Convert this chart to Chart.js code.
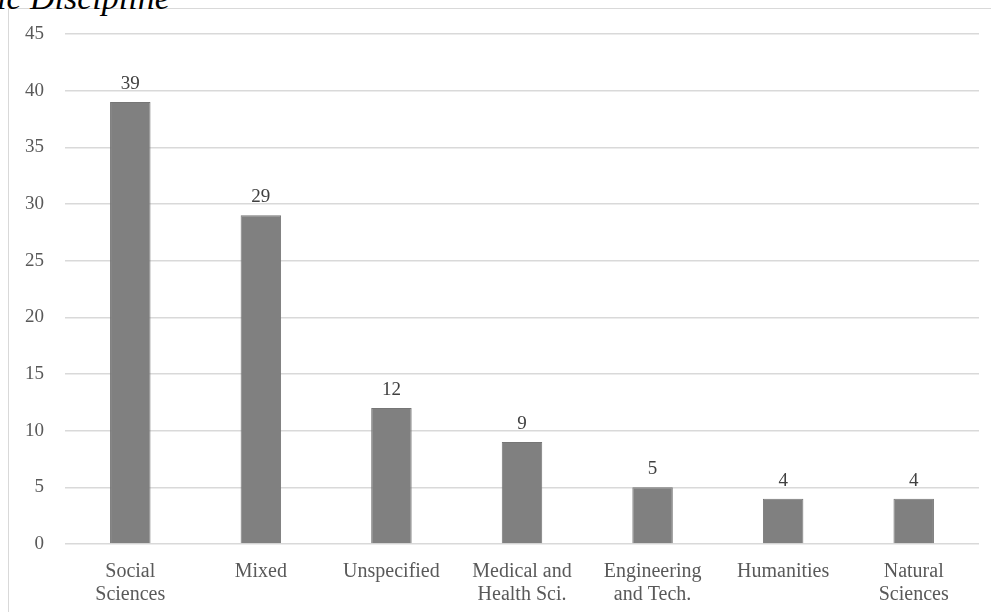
<!DOCTYPE html>
<html>
<head>
<meta charset="utf-8">
<script src="https://cdn.jsdelivr.net/npm/chart.js@4.4.1/dist/chart.umd.min.js"></script>
<style>
  html, body { margin: 0; padding: 0; background: #ffffff; overflow: hidden; }
  #wrap { position: relative; width: 991px; height: 612px; overflow: hidden; }
  #frame { position: absolute; left: 8px; top: 8px; width: 1000px; height: 620px; border: 1px solid #d9d9d9; box-sizing: border-box; }
  #title { position: absolute; left: -3px; top: -21px; font-family: "Liberation Serif", "Times New Roman", serif; font-style: italic; font-size: 34px; color: #000; white-space: nowrap; }
  canvas { position: absolute; left: 0; top: 0; }
</style>
</head>
<body>
<div id="wrap">
  <div id="frame"></div>
  <div id="title">ic Discipline</div>
  <canvas id="c" width="991" height="612"></canvas>
</div>
<script>
// Number of studies per academic discipline
const categories = [
  ["Social", "Sciences"],
  "Mixed",
  "Unspecified",
  ["Medical and", "Health Sci."],
  ["Engineering", "and Tech."],
  "Humanities",
  ["Natural", "Sciences"]
];
const counts = [39, 29, 12, 9, 5, 4, 4];
const yTicks = [0, 5, 10, 15, 20, 25, 30, 35, 40, 45];

const serif = "'Liberation Serif', 'Times New Roman', serif";

// Writes each bar's value just above its top
const valueLabels = {
  id: 'valueLabels',
  afterDatasetsDraw(chart) {
    const ctx = chart.ctx;
    const meta = chart.getDatasetMeta(0);
    ctx.save();
    ctx.font = "19px " + serif;
    ctx.fillStyle = '#404040';
    ctx.textAlign = 'center';
    ctx.textBaseline = 'alphabetic';
    meta.data.forEach((bar, i) => {
      ctx.fillText(String(counts[i]), bar.x, bar.y - 13);
    });
    ctx.restore();
  }
};

new Chart(document.getElementById('c'), {
  type: 'bar',
  data: {
    labels: categories,
    datasets: [{
      data: counts,
      backgroundColor: '#808080',
      borderColor: '#767676',
      borderWidth: 1,
      barPercentage: 0.31,
      categoryPercentage: 1.0
    }]
  },
  options: {
    responsive: false,
    animation: false,
    devicePixelRatio: 1,
    layout: { padding: { top: 34, left: 4, right: 12, bottom: 6 } },
    plugins: {
      legend: { display: false },
      tooltip: { enabled: false }
    },
    scales: {
      x: {
        afterFit(axis) { axis.height = 62; },
        grid: { display: false },
        border: { display: false },
        ticks: {
          color: '#595959',
          font: { family: serif, size: 20, lineHeight: 1.15 },
          padding: 8,
          maxRotation: 0,
          autoSkip: false
        }
      },
      y: {
        min: 0,
        max: 45,
        afterBuildTicks(axis) { axis.ticks = yTicks.map(v => ({ value: v })); },
        grid: { color: '#d9d9d9', lineWidth: 1.5, drawTicks: false },
        border: { display: false },
        ticks: {
          color: '#595959',
          font: { family: serif, size: 19 },
          padding: 21
        }
      }
    }
  },
  plugins: [valueLabels]
});
</script>
</body>
</html>
